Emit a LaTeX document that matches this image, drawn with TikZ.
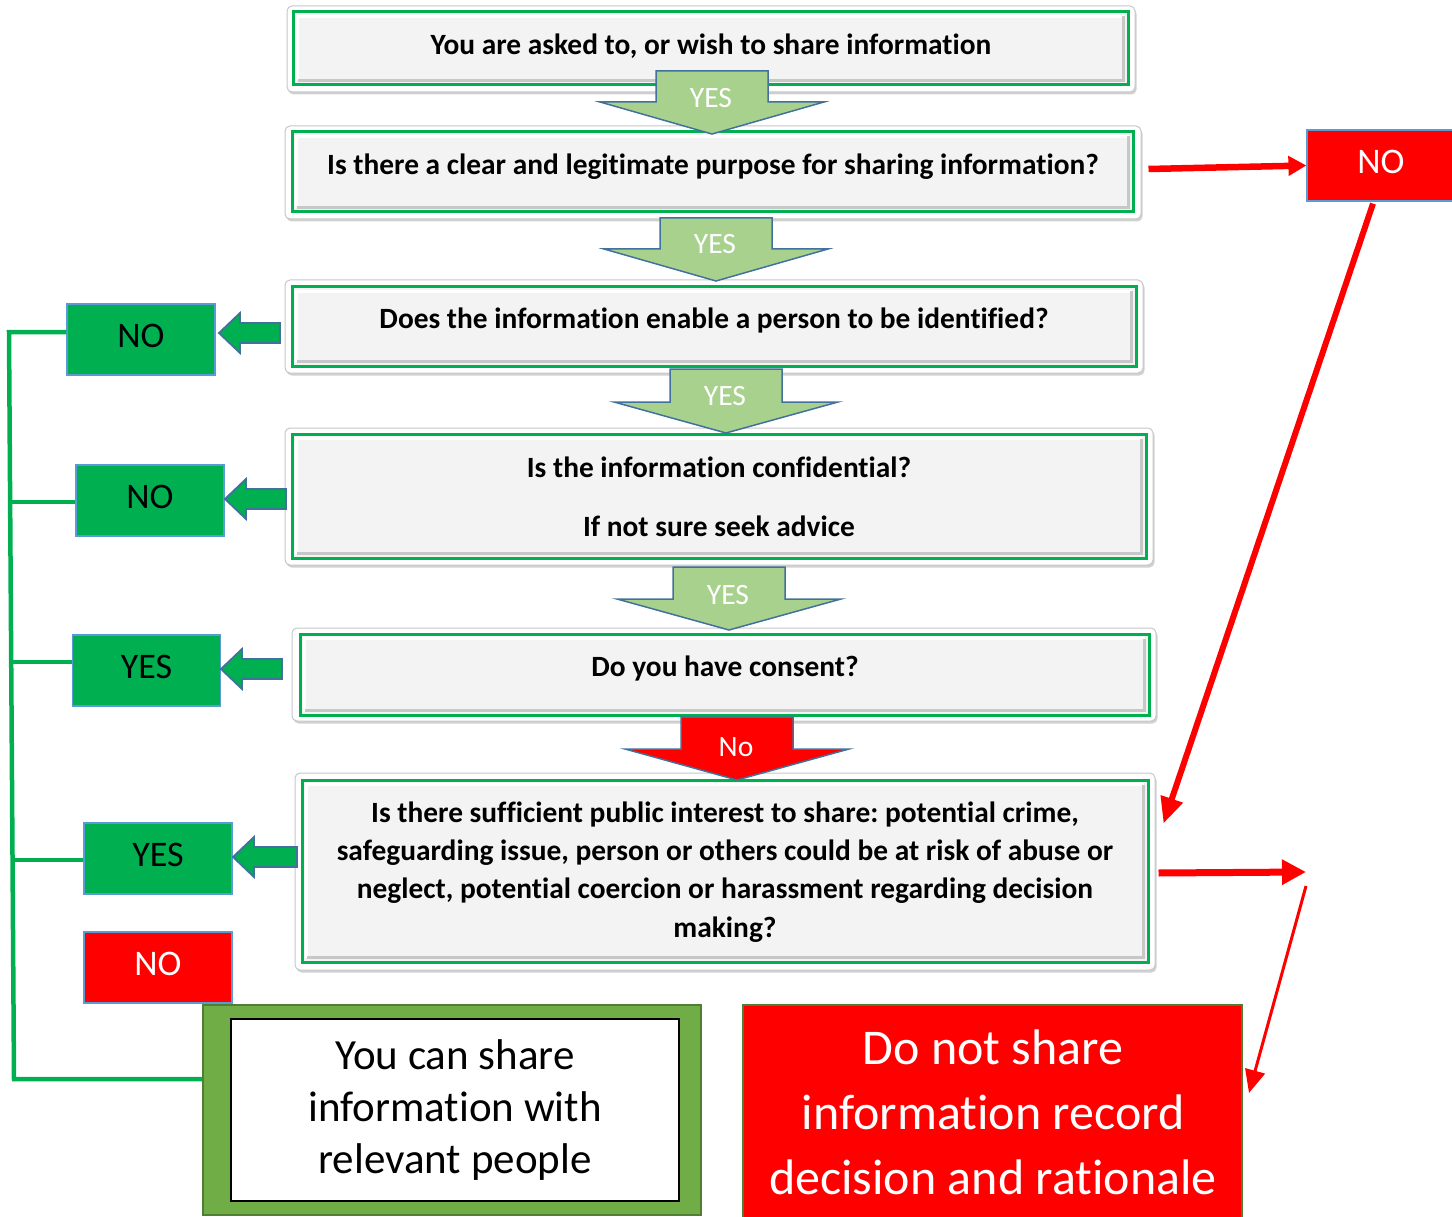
\documentclass[tikz,border=0pt]{standalone}
\usepackage{fontspec}
\setmainfont{Carlito}[Ligatures={NoCommon}]
\usetikzlibrary{arrows.meta,shadows}
\frenchspacing

\definecolor{boxgreen}{HTML}{00B050}
\definecolor{arrowgreen}{HTML}{A9D18E}
\definecolor{arrowedge}{HTML}{41719C}
\definecolor{tagedge}{HTML}{5B9BD5}
\definecolor{sharegreen}{HTML}{70AD47}
\definecolor{shareedge}{HTML}{507E32}
\definecolor{panelgray}{HTML}{F3F3F3}

\newcommand\qfont{\fontsize{29.4}{38.3}\selectfont\bfseries}
\newcommand\tagfont{\fontsize{36}{40}\selectfont}

% raised edge inside a question panel
\newcommand\bevel[1]{%
  \draw[white, line width=2.5pt]
    ([shift={(6,-6)}]#1.south west) -- ([shift={(6,6)}]#1.north west) -- ([shift={(-6,6)}]#1.north east);
  \draw[black!22, line width=3pt]
    ([shift={(-6,6)}]#1.north east) -- ([shift={(-6,-6)}]#1.south east) -- ([shift={(6,-6)}]#1.south west);
}
% wide block arrow pointing down: centre x, top, head line, tip
\newcommand\downblock[5]{%
  \draw[#5] (#1-56,#2) -- (#1+56,#2) -- (#1+56,#3) -- (#1+112,#3) -- (#1,#4)
    -- (#1-112,#3) -- (#1-56,#3) -- cycle;
}
% small block arrow pointing left: tip x, centre y, tail x
\newcommand\leftblock[3]{%
  \draw[leftarrowshape] (#1,#2) -- (#1+21,#2-20) -- (#1+21,#2-10) -- (#3,#2-10)
    -- (#3,#2+10) -- (#1+21,#2+10) -- (#1+21,#2+20) -- cycle;
}

\begin{document}
\begin{tikzpicture}[x=1pt, y=-1pt,
  frame/.style={draw=black!22, line width=1pt, fill=white, rounded corners=5pt, inner sep=0pt,
    drop shadow={shadow xshift=1.5pt, shadow yshift=-2.5pt, fill=black, opacity=0.18}},
  panel/.style={draw=boxgreen, line width=3pt, fill=panelgray, inner sep=0pt},
  qtext/.style={font=\qfont, align=center, inner sep=0pt, text=black},
  tag/.style={draw=tagedge, line width=1.2pt, fill=boxgreen, minimum width=148pt,
    minimum height=71pt, inner sep=0pt, font=\tagfont, text depth=7pt},
  redtag/.style={tag, fill=red, text=white},
  downgreen/.style={fill=arrowgreen, draw=arrowedge, line width=1.5pt, line join=miter},
  downred/.style={fill=red, draw=arrowedge, line width=1.5pt, line join=miter},
  leftarrowshape/.style={fill=boxgreen, draw=arrowedge, line width=1.8pt, line join=miter},
  arrowlabel/.style={font=\fontsize{29.5}{30}\selectfont, text=white, inner sep=0pt},
  gline/.style={draw=boxgreen, line width=4.5pt},
  redarrow/.style={draw=red, line width=6.5pt, -{Triangle[length=18pt,width=19pt]}},
  redarrowb/.style={draw=red, line width=7pt, -{Triangle[length=24pt,width=24pt]}},
  redslant/.style={draw=red, line width=6pt, -{Triangle[length=26pt,width=22pt]}},
  thinred/.style={draw=red, line width=3pt, -{Triangle[length=23pt,width=20pt]}},
]
\useasboundingbox (0,0) rectangle (1452,1217);

% ---- question boxes ----
\node[frame, minimum width=848pt, minimum height=86pt] (f1) at (711,49) {};
\node[panel, minimum width=835pt, minimum height=73pt] (p1) at (710.5,48.5) {};
\bevel{p1}
\node[qtext] (t1) at (711,46.5) {You are asked to, or wish to share information};

\node[frame, minimum width=856pt, minimum height=93pt] (f2) at (713,172.5) {};
\node[panel, minimum width=841pt, minimum height=80pt] (p2) at (712.5,172) {};
\bevel{p2}
\node[qtext] (t2) at (713,166.5) {Is there a clear and legitimate purpose for sharing information?};

\node[frame, minimum width=858pt, minimum height=93pt] (f3) at (714,326.5) {};
\node[panel, minimum width=844pt, minimum height=79pt] (p3) at (714,326.5) {};
\bevel{p3}
\node[qtext] (t3) at (714,320.5) {Does the information enable a person to be identified?};

\node[frame, minimum width=868pt, minimum height=137pt] (f4) at (719,496.5) {};
\node[panel, minimum width=854pt, minimum height=124pt] (p4) at (719,496) {};
\bevel{p4}
\node[qtext] (t4) at (719,497) {Is the information confidential?\\[20.7pt]If not sure seek advice};

\node[frame, minimum width=864pt, minimum height=93pt] (f5) at (724,674.5) {};
\node[panel, minimum width=849pt, minimum height=81pt] (p5) at (724.5,674.5) {};
\bevel{p5}
\node[qtext] (t5) at (725,668.5) {Do you have consent?};

\node[frame, minimum width=860pt, minimum height=197pt] (f6) at (725,871.5) {};
\node[panel, minimum width=846pt, minimum height=182pt] (p6) at (725,871) {};
\bevel{p6}
\node[qtext] (t6) at (725,872) {Is there sufficient public interest to share: potential crime,\\
  safeguarding issue, person or others could be at risk of abuse or\\
  neglect, potential coercion or harassment regarding decision\\
  making?};

% ---- block arrows between the questions ----
\downblock{712}{71}{102}{134}{downgreen}
\node[arrowlabel] (a1) at (711,98) {YES};
\downblock{716}{218}{249}{281}{downgreen}
\node[arrowlabel] (a2) at (715,244) {YES};
\downblock{726}{369}{402}{433}{downgreen}
\node[arrowlabel] (a3) at (725,396) {YES};
\downblock{729}{567}{599}{630}{downgreen}
\node[arrowlabel] (a4) at (728,595) {YES};
\downblock{737}{717}{749}{780}{downred}
\node[arrowlabel] (a5) at (736,747) {No};

% ---- answers on the left ----
\node[tag] (n1) at (141,339.5) {NO};
\node[tag] (n2) at (150,500.5) {NO};
\node[tag] (y1) at (146.5,670.5) {YES};
\node[tag] (y2) at (158,858.5) {YES};
\node[redtag] (n3) at (158,967.5) {NO};

\leftblock{219}{333}{280}
\leftblock{225}{499}{286}
\leftblock{221}{669}{282}
\leftblock{233}{857}{297}

% ---- outcome boxes ----
\node[draw=shareedge, line width=2pt, fill=sharegreen, minimum width=498pt,
  minimum height=210pt, inner sep=0pt] (share) at (452,1110) {};
\node[draw=black, line width=1.5pt, fill=white, minimum width=448pt, minimum height=182pt,
  inner sep=0pt, align=center, font=\fontsize{43}{52}\selectfont] (shareIn) at (455,1110)
  {You can share\\information with\\relevant people};

\node[draw=shareedge, line width=2pt, fill=red, minimum width=499pt, minimum height=230pt,
  inner sep=0pt] (dont) at (992.5,1120) {};
\node[text=white, align=center, inner sep=0pt, font=\fontsize{50}{65}\selectfont]
  (dontText) at (993,1112) {Do not share\\information record\\decision and rationale};

\node[redtag] (nR) at (1381,165.5) {NO};

% ---- green route to sharing ----
\coordinate (j1) at (9,332);
\coordinate (j2) at (10,502);
\coordinate (j3) at (12,662);
\coordinate (j4) at (13,860);
\coordinate (jb) at (14,1079);
\draw[gline, line join=miter] (n1.west |- j1) -- (j1) -- (jb) -- (share.west |- jb);
\draw[gline] (n2.west |- j2) -- (j2);
\draw[gline] (y1.west |- j3) -- (j3);
\draw[gline] (y2.west |- j4) -- (j4);

% ---- red route ----
\draw[redarrow] ([shift={(7,-3.5)}]f2.east) -- (nR.west);
\draw[redslant] ([shift={(-8,2)}]nR.south) -- ([shift={(8,51)}]f6.north east);
\coordinate (rEnd) at (1306,872);
\coordinate (rStart) at (1306,886);
\draw[redarrowb] ([shift={(3,1.5)}]f6.east) -- (rEnd);
\draw[thinred] (rStart) -- ([shift={(6,-27)}]dont.east);
\end{tikzpicture}
\end{document}
